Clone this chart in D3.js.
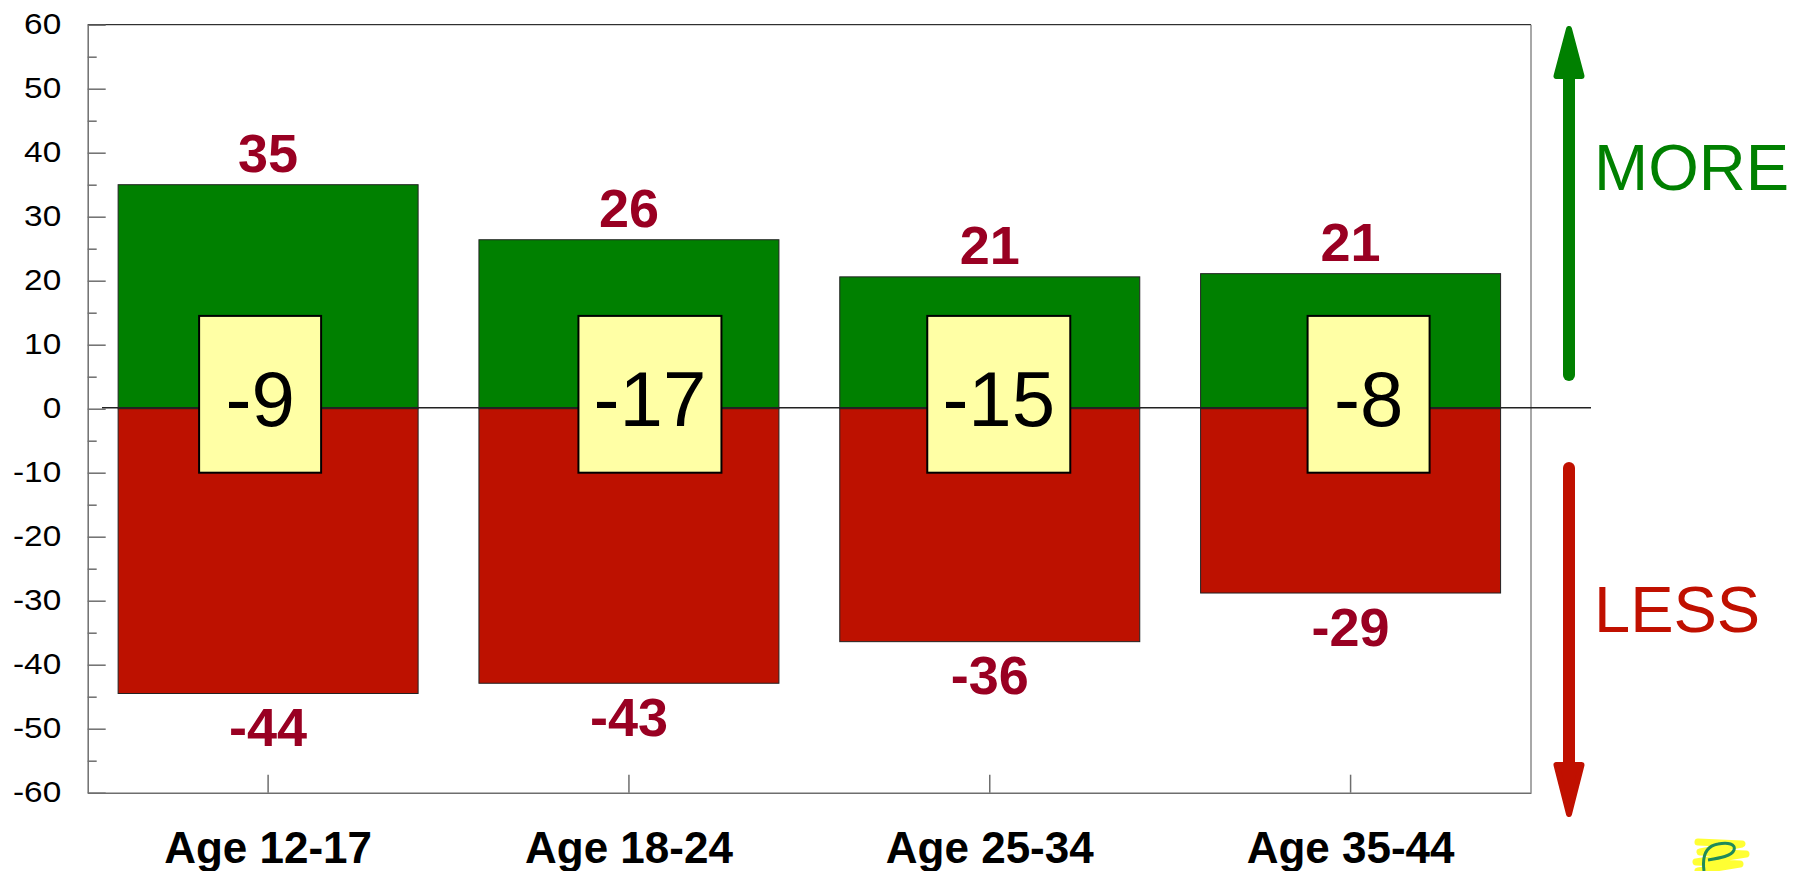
<!DOCTYPE html>
<html>
<head>
<meta charset="utf-8">
<script src="https://cdn.jsdelivr.net/npm/d3@7"></script>
<style>
  html, body { margin: 0; padding: 0; background: #fff; }
  svg { display: block; font-family: "Liberation Sans", Arial, sans-serif; }
</style>
</head>
<body>
<svg id="chart" width="1810" height="871"></svg>
<script>
// ---- data ----
const categories = ["Age 12-17", "Age 18-24", "Age 25-34", "Age 35-44"];
const moreValues = [35, 26.4, 20.6, 21.1];
const lessValues = [-44.5, -42.9, -36.4, -28.8];
const moreLabels = ["35", "26", "21", "21"];
const lessLabels = ["-44", "-43", "-36", "-29"];
const netLabels = ["-9", "-17", "-15", "-8"];
const majorTicks = [60, 50, 40, 30, 20, 10, 0, -10, -20, -30, -40, -50, -60];
const minorTicks = [55, 45, 35, 25, 15, 5, -5, -15, -25, -35, -45, -55];
const boxRange = [14.5, -10];   // net box spans this value range

// ---- layout ----
const plot = { left: 87.7, right: 1531, top: 24.7, bottom: 792.7 };
const boxShift = [-8, 21, 9, 18];     // horizontal offset of net box from bar centre (px)
const boxWidthPerChar = [0, 0, 122, 143];

const svg = d3.select("#chart");

const y = d3.scaleLinear().domain([-60, 60]).range([plot.bottom, plot.top]);
const x = d3.scaleBand().domain(categories).range([plot.left, plot.right])
  .paddingInner(0.1686).paddingOuter(0.0843);

const colors = {
  green: "#008000", red: "#BD1100", label: "#990022", box: "#FFFFA5",
  axis: "#6e6e6e", arrowRed: "#C01000"
};

// frame: top & right borders
svg.append("line").attr("x1", plot.left).attr("x2", plot.right)
  .attr("y1", plot.top).attr("y2", plot.top).attr("stroke", "#000").attr("stroke-width", 1);
svg.append("line").attr("x1", plot.right).attr("x2", plot.right)
  .attr("y1", plot.top).attr("y2", plot.bottom).attr("stroke", colors.axis).attr("stroke-width", 1.2);

// bars
const rows = categories.map((c, i) => ({ c, i, more: moreValues[i], less: lessValues[i] }));

svg.append("g").selectAll("rect.more").data(rows).join("rect")
  .attr("x", d => x(d.c)).attr("width", x.bandwidth())
  .attr("y", d => y(d.more)).attr("height", d => y(0) - y(d.more))
  .attr("fill", colors.green).attr("stroke", "#222").attr("stroke-width", 1);

svg.append("g").selectAll("rect.less").data(rows).join("rect")
  .attr("x", d => x(d.c)).attr("width", x.bandwidth())
  .attr("y", y(0)).attr("height", d => y(d.less) - y(0))
  .attr("fill", colors.red).attr("stroke", "#222").attr("stroke-width", 1);

// zero line
svg.append("line").attr("x1", 102).attr("x2", 1591)
  .attr("y1", y(0) - 1).attr("y2", y(0) - 1)
  .attr("stroke", "#222").attr("stroke-width", 1.6);

// axes
const yStretch = 1.15;
const yAxis = d3.axisLeft(y).tickValues(majorTicks).tickSizeInner(-18).tickSizeOuter(0)
  .tickPadding(26.5).tickFormat(d => String(d));
const gy = svg.append("g").attr("transform", `translate(${plot.left},0)`).call(yAxis);
gy.select(".domain").attr("stroke", colors.axis).attr("stroke-width", 1.5);
gy.selectAll(".tick line").attr("stroke", colors.axis).attr("stroke-width", 1.5);
gy.selectAll(".tick text").attr("font-size", 29).attr("fill", "#000")
  .attr("font-family", "'Liberation Sans', Arial, sans-serif")
  .attr("x", -26.5 / yStretch).attr("transform", `scale(${yStretch},1)`);

const yMinor = d3.axisLeft(y).tickValues(minorTicks).tickSizeInner(-9).tickSizeOuter(0).tickFormat("");
const gym = svg.append("g").attr("transform", `translate(${plot.left},0)`).call(yMinor);
gym.select(".domain").remove();
gym.selectAll(".tick line").attr("stroke", colors.axis).attr("stroke-width", 1.5);

const xAxis = d3.axisBottom(x).tickSizeInner(-18).tickSizeOuter(0).tickPadding(39);
const gx = svg.append("g").attr("transform", `translate(0,${plot.bottom})`).call(xAxis);
gx.select(".domain").attr("stroke", colors.axis).attr("stroke-width", 1.5);
gx.selectAll(".tick line").attr("stroke", colors.axis).attr("stroke-width", 1.5);
gx.selectAll(".tick text").attr("font-size", 44).attr("font-weight", "bold").attr("fill", "#000")
  .attr("font-family", "'Liberation Sans', Arial, sans-serif");

// value labels
svg.append("g").selectAll("text").data(rows).join("text")
  .attr("x", d => x(d.c) + x.bandwidth() / 2).attr("y", d => y(d.more) - 12.6)
  .attr("text-anchor", "middle").attr("font-size", 54).attr("font-weight", "bold")
  .attr("fill", colors.label).text(d => moreLabels[d.i]);

svg.append("g").selectAll("text").data(rows).join("text")
  .attr("x", d => x(d.c) + x.bandwidth() / 2).attr("y", d => y(d.less) + 52.5)
  .attr("text-anchor", "middle").attr("font-size", 54).attr("font-weight", "bold")
  .attr("fill", colors.label).text(d => lessLabels[d.i]);

// net boxes
const boxes = svg.append("g").selectAll("g").data(rows).join("g");
boxes.append("rect")
  .attr("x", d => x(d.c) + x.bandwidth() / 2 + boxShift[d.i] - boxWidthPerChar[netLabels[d.i].length] / 2)
  .attr("width", d => boxWidthPerChar[netLabels[d.i].length])
  .attr("y", y(boxRange[0])).attr("height", y(boxRange[1]) - y(boxRange[0]))
  .attr("fill", colors.box).attr("stroke", "#000").attr("stroke-width", 2);
boxes.append("text")
  .attr("x", d => x(d.c) + x.bandwidth() / 2 + boxShift[d.i])
  .attr("y", (y(boxRange[0]) + y(boxRange[1])) / 2 + 31.5)
  .attr("text-anchor", "middle").attr("font-size", 78).attr("fill", "#000")
  .text(d => netLabels[d.i]);

// arrows
function arrow(cx, tail, base, tip, color) {
  svg.append("line").attr("x1", cx).attr("x2", cx).attr("y1", tail).attr("y2", base)
    .attr("stroke", color).attr("stroke-width", 12).attr("stroke-linecap", "round");
  const dir = tip < base ? -1 : 1;
  svg.append("path")
    .attr("d", `M${cx - 12.5},${base - dir * 3} L${cx + 12.5},${base - dir * 3} L${cx},${tip - dir * 3} Z`)
    .attr("fill", color).attr("stroke", color).attr("stroke-width", 6).attr("stroke-linejoin", "round");
}
arrow(1569, 375, 73, 26, colors.green);
arrow(1569, 468, 768, 817, colors.arrowRed);

svg.append("text").attr("x", 1594).attr("y", 190).attr("font-size", 65)
  .attr("fill", colors.green).text("MORE");
svg.append("text").attr("x", 1594).attr("y", 632).attr("font-size", 65)
  .attr("fill", colors.arrowRed).text("LESS");

// small logo (bottom right)
const logo = svg.append("g").attr("transform", "translate(1692,834)");
logo.append("path")
  .attr("d", "M6,8 L50,10 L8,18 L54,20 L4,28 L48,30 L6,37")
  .attr("fill", "none").attr("stroke", "#ffff33").attr("stroke-width", 7)
  .attr("stroke-linejoin", "round").attr("stroke-linecap", "round");
logo.append("path")
  .attr("d", "M12,37 C10,22 14,12 26,10 C36,8 44,10 42,16 C40,22 28,24 16,26")
  .attr("fill", "none").attr("stroke", "#1f8a5a").attr("stroke-width", 3);
</script>
</body>
</html>
